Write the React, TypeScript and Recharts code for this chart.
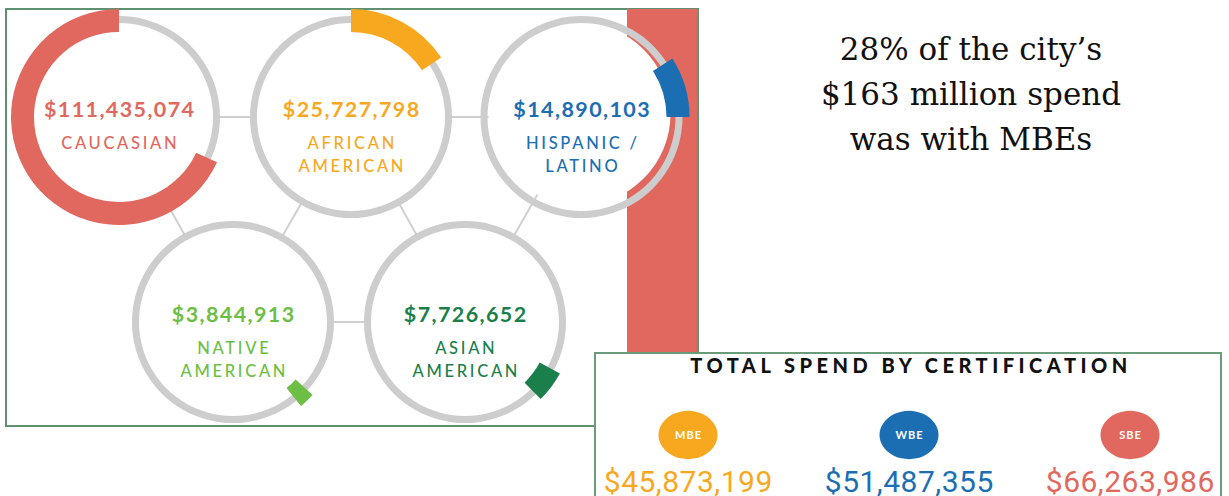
import React from 'react';
import { PieChart, Pie, Cell } from 'recharts';

// ---------- data ----------
const groupNames = ['CAUCASIAN', 'AFRICAN AMERICAN', 'HISPANIC / LATINO', 'NATIVE AMERICAN', 'ASIAN AMERICAN'];
const groupLabelLines = [['CAUCASIAN'], ['AFRICAN', 'AMERICAN'], ['HISPANIC /', 'LATINO'], ['NATIVE', 'AMERICAN'], ['ASIAN', 'AMERICAN']];
const groupSpend = [111435074, 25727798, 14890103, 3844913, 7726652];
const groupArcStart = [90, 90, 0, -42.5, -28.5];
const groupArcClockwise = [false, true, false, true, true];
const groupColors = ['#E0685E', '#F8A81F', '#1C6EB3', '#6CBE45', '#1A7F4B'];

const certNames = ['MBE', 'WBE', 'SBE'];
const certSpend = [45873199, 51487355, 66263986];
const certColors = ['#F8A81F', '#1C6EB3', '#E0685E'];
const certTitle = 'TOTAL SPEND BY CERTIFICATION';

const headlineLines = ['28% of the city\u2019s', '$163 million spend', 'was with MBEs'];

// ---------- layout ----------
const W = 1229;
const H = 496;
const ringCenters = [[119, 117], [351, 117], [581.5, 117], [233, 322], [465, 322]];
const links = [[0, 1], [1, 2], [3, 4], [0, 3], [1, 3], [1, 4], [2, 4]];
const discOffsets = [[0, 0, 94], [0, 0, 94], [-2, -3, 91], [0, 0, 94], [0, 0, 94]];
const certX = [688, 909, 1130];
const SANS = 'Lato, "Open Sans", sans-serif';

const total = groupSpend.reduce((a, b) => a + b, 0);
const fmt = (n: number) => '$' + n.toLocaleString('en-US');

export default function App() {
  return (
    <div style={{ position: 'absolute', left: 0, top: 0, width: W, height: H, overflow: 'hidden', background: '#fff' }}>
      {/* left panel frame */}
      <div style={{ position: 'absolute', left: 5, top: 8, width: 694, height: 419, border: '2px solid #5f9070', boxSizing: 'border-box' }} />

      {/* background decorations */}
      <svg width={W} height={H} style={{ position: 'absolute', left: 0, top: 0 }}>
        <rect x={627} y={9} width={70.5} height={416} fill="#E0685E" />
        {links.map(([a, b], i) => (
          <line key={i} x1={ringCenters[a][0]} y1={ringCenters[a][1]} x2={ringCenters[b][0]} y2={ringCenters[b][1]} stroke="#cfcfcf" strokeWidth={2} />
        ))}
        {ringCenters.map((c, i) => (
          <circle key={i} cx={c[0] + discOffsets[i][0]} cy={c[1] + discOffsets[i][1]} r={discOffsets[i][2]} fill="#fff" />
        ))}
      </svg>

      {/* rings and arcs */}
      <div style={{ position: 'absolute', left: 0, top: 0 }}>
        <PieChart width={W} height={H} margin={{ top: 0, right: 0, bottom: 0, left: 0 }}>
          {ringCenters.map((c, i) => (
            <Pie
              key={'track' + i}
              data={[{ name: groupNames[i], value: total }]}
              dataKey="value"
              cx={c[0]}
              cy={c[1]}
              innerRadius={94}
              outerRadius={101}
              startAngle={90}
              endAngle={-270}
              fill="#CDCDCD"
              stroke="none"
              isAnimationActive={false}
            />
          ))}
          {groupSpend.map((v, i) => (
            <Pie
              key={'arc' + i}
              data={[{ name: groupNames[i], value: v }, { name: 'rest', value: total - v }]}
              dataKey="value"
              cx={ringCenters[i][0]}
              cy={ringCenters[i][1]}
              innerRadius={85}
              outerRadius={108}
              startAngle={groupArcStart[i]}
              endAngle={groupArcStart[i] + (groupArcClockwise[i] ? -360 : 360)}
              stroke="none"
              isAnimationActive={false}
            >
              <Cell fill={groupColors[i]} stroke="none" />
              <Cell fill="none" stroke="none" />
            </Pie>
          ))}
        </PieChart>
      </div>

      {/* texts of the left panel + headline */}
      <svg width={W} height={H} style={{ position: 'absolute', left: 0, top: 0 }}>
        {groupSpend.map((v, i) => (
          <g key={i} fontFamily={SANS} textAnchor="middle" fill={groupColors[i]}>
            <text x={ringCenters[i][0] + 0.7} y={ringCenters[i][1]} fontSize={21.5} fontWeight={700} letterSpacing={1.4}>
              {fmt(v)}
            </text>
            {groupLabelLines[i].map((ln, j) => (
              <text key={j} x={ringCenters[i][0] + 1.3} y={ringCenters[i][1] + 32 + j * 23} fontSize={16.5} fontWeight={500} letterSpacing={2.7}>
                {ln}
              </text>
            ))}
          </g>
        ))}
        <g fontFamily='"DejaVu Serif", serif' fontSize={31} textAnchor="middle" fill="#111">
          {headlineLines.map((ln, i) => (
            <text key={i} x={971} y={60 + i * 45}>{ln}</text>
          ))}
        </g>
      </svg>

      {/* bottom-right panel */}
      <div style={{ position: 'absolute', left: 594, top: 352, width: 628, height: 170, border: '2px solid #6a9c7a', boxSizing: 'border-box', background: '#fff' }} />

      <div style={{ position: 'absolute', left: 0, top: 395, width: W, height: 80, transform: 'scaleY(0.82)', transformOrigin: '50% 50%' }}>
        <PieChart width={W} height={80} margin={{ top: 0, right: 0, bottom: 0, left: 0 }}>
          {certSpend.map((v, i) => (
            <Pie
              key={'cert' + i}
              data={[{ name: certNames[i], value: v }]}
              dataKey="value"
              cx={certX[i]}
              cy={40}
              innerRadius={0}
              outerRadius={29.5}
              startAngle={90}
              endAngle={-270}
              fill={certColors[i]}
              stroke="none"
              isAnimationActive={false}
            />
          ))}
        </PieChart>
      </div>

      <svg width={W} height={H} style={{ position: 'absolute', left: 0, top: 0 }}>
        <text x={909 + 2} y={373} textAnchor="middle" fontFamily={SANS} fontSize={20} fontWeight={900} letterSpacing={4.5} fill="#111">
          {certTitle}
        </text>
        {certNames.map((nm, i) => (
          <g key={i} textAnchor="middle">
            <text x={certX[i] + 0.5} y={439} fontFamily={SANS} fontSize={11} fontWeight={700} letterSpacing={1} fill="#fff">{nm}</text>
            <text x={certX[i] + 0.3} y={492} fontFamily='Roboto, sans-serif' fontSize={30} fontWeight={400} letterSpacing={0.5} fill={certColors[i]}>{fmt(certSpend[i])}</text>
          </g>
        ))}
      </svg>
    </div>
  );
}
